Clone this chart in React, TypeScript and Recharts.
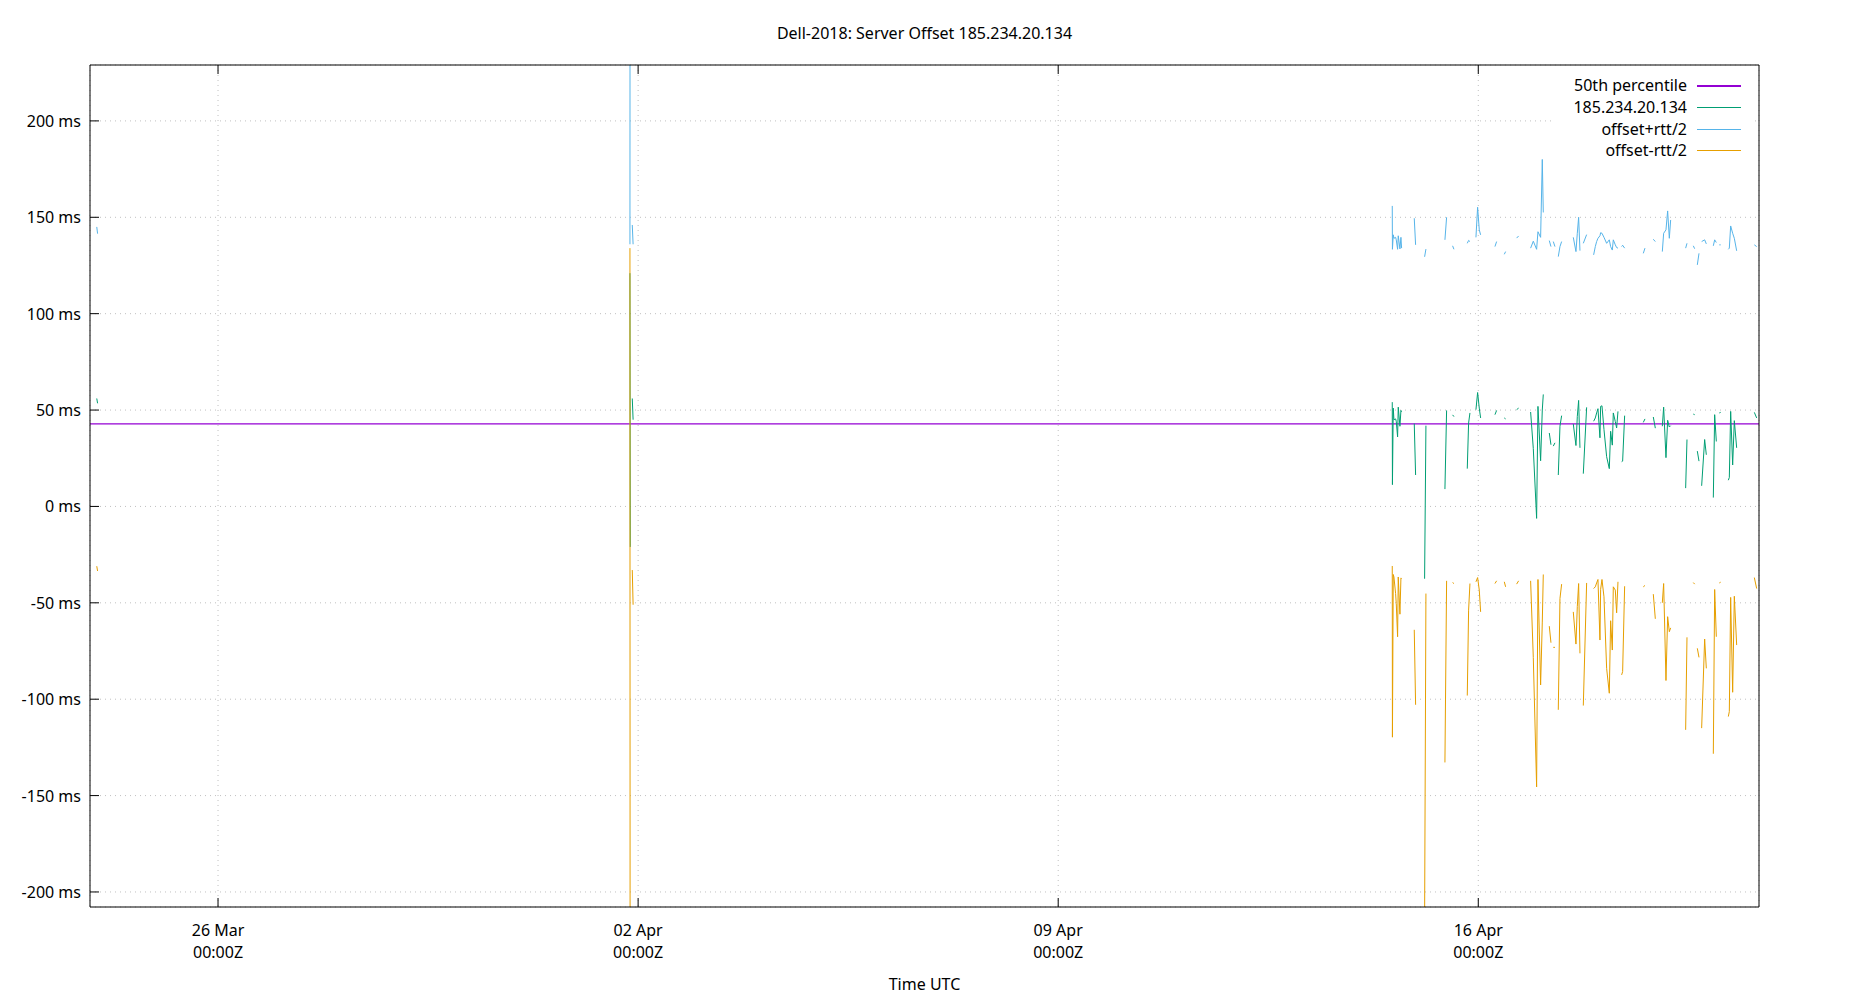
import { LineChart, Line, XAxis, YAxis, CartesianGrid, ReferenceLine } from 'recharts';

const title = 'Dell-2018: Server Offset 185.234.20.134';
const xLabel = 'Time UTC';
const legendNames = ['50th percentile', '185.234.20.134', 'offset+rtt/2', 'offset-rtt/2'];
const legendColors = ['#9400d3', '#009e73', '#56b4e9', '#e69f00'];

const xDomain = ['03-23 20:48', '04-20 16:16'];
const xTickTimes = ['03-26 00:00', '04-02 00:00', '04-09 00:00', '04-16 00:00'];
const xTickDays = ['26 Mar', '02 Apr', '09 Apr', '16 Apr'];
const yDomain = [-207.8, 229];
const yTicks = [-200, -150, -100, -50, 0, 50, 100, 150, 200];
const median = 42.8;

// null = no data there (line breaks)
const times = [
  '03-23 23:30', '03-23 23:50', null,
  '04-01 20:44', '04-01 20:52', null,
  '04-01 21:40', '04-01 22:00', null,
  '04-14 13:36', '04-14 13:40', '04-14 14:00', '04-14 14:16', '04-14 14:56', '04-14 15:12', '04-14 15:44', '04-14 16:00', '04-14 16:40', '04-14 17:04', '04-14 17:20', null,
  '04-14 22:24', '04-14 22:56', null,
  '04-15 02:32', '04-15 03:04', null,
  '04-15 10:40', '04-15 11:20', null,
  '04-15 13:44', '04-15 14:16', null,
  '04-15 19:36', '04-15 20:08', '04-15 20:40', null,
  '04-15 23:04', '04-15 23:44', '04-16 00:24', '04-16 00:56', null,
  '04-16 06:40', '04-16 07:20', null,
  '04-16 10:24', '04-16 10:56', null,
  '04-16 15:20', '04-16 16:08', null,
  '04-16 20:56', '04-16 22:00', '04-16 23:20', '04-16 23:52', '04-17 00:56', '04-17 01:36', '04-17 02:00', null,
  '04-17 04:24', '04-17 05:04', null,
  '04-17 06:00', '04-17 06:40', null,
  '04-17 08:00', '04-17 08:40', '04-17 09:20', null,
  '04-17 14:00', '04-17 15:04', '04-17 15:36', '04-17 16:08', '04-17 16:40', null,
  '04-17 18:00', '04-17 19:20', null,
  '04-17 22:08', '04-17 22:48', '04-17 23:20', '04-17 23:52', '04-18 00:40', '04-18 00:56', '04-18 01:28', '04-18 02:16', '04-18 03:20', '04-18 04:24', '04-18 04:56', '04-18 05:36', '04-18 06:00', '04-18 06:48', '04-18 07:20', '04-18 07:52', null,
  '04-18 09:20', '04-18 09:44', '04-18 10:32', null,
  '04-18 18:00', '04-18 18:40', null,
  '04-18 22:00', '04-18 22:48', null,
  '04-19 01:36', '04-19 02:08', '04-19 03:04', '04-19 03:44', '04-19 04:24', '04-19 04:56', null,
  '04-19 10:56', '04-19 11:28', null,
  '04-19 14:00', '04-19 14:32', null,
  '04-19 15:36', '04-19 16:16', null,
  '04-19 17:20', '04-19 18:32', '04-19 19:12', null,
  '04-19 22:00', '04-19 22:32', '04-19 23:12', null,
  '04-20 00:24', '04-20 00:56', null,
  '04-20 04:00', '04-20 04:24', '04-20 04:56', '04-20 05:44', '04-20 06:24', '04-20 07:20', null,
  '04-20 14:24', '04-20 15:20',
];

// offset+rtt/2 (ms)
const upper = [
  145, 141.5, null,
  136, 620, null,
  146, 136, null,
  155.9, 133.4, 140.9, 139.1, 139.6, 138.3, 133.4, 140.4, 133.6, 139.6, 134.0, null,
  149.5, 135.7, null,
  129.5, 133.5, null,
  138.3, 150, null,
  135.2, 133.4, null,
  136.5, 138, 137.4, null,
  139.6, 155.2, 143.5, 140.9, null,
  134.8, 137.4, null,
  130.8, 132.2, null,
  139.2, 140.3, null,
  134, 137.6, 133.4, 142.5, 139.6, 180, 152.5, null,
  137.9, 134.8, null,
  137.4, 134.8, null,
  129.6, 134.8, 137.4, null,
  139.6, 132.2, 141.7, 150, 132.7, null,
  136.5, 141, null,
  130.5, 134.8, 137.4, 139.1, 140.4, 142, 141.7, 139.6, 136.5, 138.3, 134.8, 133, 138.3, 135.7, 134.3, 134, null,
  134.8, 135.5, 134, null,
  131.3, 134, null,
  138.6, 137.4, null,
  132.2, 141.7, 143.5, 153.3, 139.1, 148.6, null,
  134, 136.5, null,
  135.2, 133.7, null,
  125.3, 131.3, null,
  137.4, 138.3, 136.2, null,
  135.2, 138.3, 136.9, null,
  135.7, 135.7, null,
  133.4, 134, 145.5, 141.7, 139.1, 132.6, null,
  135.7, 134.8,
];

// offset (ms)
const offset = [
  56, 53.5, null,
  121, -21, null,
  56, 45, null,
  54.1, 11.3, 51.0, 45.0, 45.4, 44.2, 36.1, 51.5, 41.6, 49.8, 49.1, null,
  43, 16.3, null,
  -37.5, 41.9, null,
  9, 49.8, null,
  47.5, 46.6, null,
  19.6, 43.3, 48.5, null,
  50.2, 59.1, 51, 45.9, null,
  47.6, 49.8, null,
  45.9, 45.4, null,
  50.2, 51, null,
  49, 30.1, -6.2, 51.9, 23.7, 50, 58.1, null,
  38.1, 32, null,
  31.3, 33, null,
  16.3, 41.6, 47.1, null,
  42.8, 31.6, 46.7, 55, 30.4, null,
  17, 51.4, null,
  44.2, 45.9, 48.5, 50.7, 35.6, 51.9, 52.2, 39.9, 25.8, 19.6, 39, 31.8, 48.5, 44, 40.7, 49.3, null,
  23.2, 23.5, 47.1, null,
  43.6, 45.4, null,
  46.4, 40.6, null,
  41.6, 51.5, 25.3, 44.7, 41.2, 41.9, null,
  9.5, 34.7, null,
  47.9, 47.6, null,
  28.7, 23.5, null,
  10.7, 34.7, 26.8, null,
  4.6, 47.6, 33.7, null,
  48.5, 48.8, null,
  13.6, 15, 49.3, 21.5, 44.5, 30.4, null,
  48.8, 45.9,
];

// offset-rtt/2 (ms)
const lower = [
  -31, -33.5, null,
  134, -660, null,
  -33, -51, null,
  -30.9, -119.7, -35.3, -36.6, -45.2, -50.3, -67.6, -36.6, -55.9, -37.1, -37.4, null,
  -64, -102.9, null,
  -215, -45.2, null,
  -132.8, -38.6, null,
  -39.5, -40, null,
  -98.1, -53.8, -40, null,
  -39.1, -36.9, -43.4, -54.7, null,
  -40, -38.6, null,
  -39.1, -41.7, null,
  -40.3, -38.6, null,
  -38.6, -78.3, -145.5, -37.9, -92.6, -60, -35.3, null,
  -62.1, -70.7, null,
  -73.1, -73.1, null,
  -105.5, -47.8, -40.3, null,
  -54.7, -71.4, -52, -40, -76.2, null,
  -103.3, -39.7, null,
  -42.6, -41.7, -39.7, -37.9, -69.3, -43, -37.9, -46.9, -84, -96.9, -59.3, -74.5, -41.7, -43.4, -55.2, -39.1, null,
  -87.4, -85.7, -41.4, null,
  -41.7, -41, null,
  -45.5, -58.3, null,
  -50, -40, -90.3, -57.2, -65, -63, null,
  -115.9, -67.9, null,
  -39.5, -40.3, null,
  -73.6, -78.3, null,
  -115, -68.8, -84, null,
  -128.3, -43.1, -67.6, null,
  -39.7, -39.3, null,
  -109, -106.4, -47.2, -96.4, -46.6, -71.9, null,
  -36.9, -42.6,
];

const W = 1850;
const H = 1000;
const PLOT = { left: 90, top: 65, right: 1759, bottom: 907 };
const FONT = '"Noto Sans", sans-serif';

const toMs = (s: string) => Date.parse(`2018-${s.replace(' ', 'T')}:00Z`);

const rows = times.map((s, i) => ({
  t: toMs(s ?? (times[i - 1] as string)),
  upper: upper[i],
  offset: offset[i],
  lower: lower[i],
}));

const xTicks = xTickTimes.map(toMs);

const BottomTick = (props: any) => {
  const { x, payload } = props;
  const i = xTicks.indexOf(payload.value);
  return (
    <g>
      <line x1={x} x2={x} y1={PLOT.bottom} y2={PLOT.bottom - 9} stroke="#000" />
      <text x={x} y={930} textAnchor="middle" dominantBaseline="central" fontFamily={FONT} fontSize={16} fill="#000">
        {xTickDays[i]}
      </text>
      <text x={x} y={952} textAnchor="middle" dominantBaseline="central" fontFamily={FONT} fontSize={16} fill="#000">
        00:00Z
      </text>
    </g>
  );
};

const TopTick = (props: any) => (
  <line x1={props.x} x2={props.x} y1={PLOT.top} y2={PLOT.top + 9} stroke="#000" />
);

const LeftTick = (props: any) => {
  const { y, payload } = props;
  return (
    <g>
      <line x1={PLOT.left} x2={PLOT.left + 9} y1={y} y2={y} stroke="#000" />
      <text x={PLOT.left - 9} y={y} textAnchor="end" dominantBaseline="central" fontFamily={FONT} fontSize={16} fill="#000">
        {`${payload.value} ms`}
      </text>
    </g>
  );
};

const legendRows = [85, 107, 129, 150];

export default function App() {
  return (
    <div style={{ position: 'absolute', left: 0, top: 0, width: W, height: H, background: '#fff', fontFamily: FONT }}>
      <LineChart width={W} height={H} data={rows} margin={{ top: 0, right: 0, bottom: 0, left: 0 }}>
        <CartesianGrid stroke="#c0c0c0" strokeDasharray="1 4" />
        <XAxis
          dataKey="t"
          type="number"
          domain={xDomain.map(toMs)}
          ticks={xTicks}
          allowDataOverflow
          interval={0}
          height={H - PLOT.bottom}
          tickSize={0}
          tickMargin={0}
          tickLine={false}
          axisLine={{ stroke: '#000' }}
          tick={BottomTick}
        />
        <XAxis
          xAxisId="top"
          orientation="top"
          dataKey="t"
          type="number"
          domain={xDomain.map(toMs)}
          ticks={xTicks}
          allowDataOverflow
          interval={0}
          height={PLOT.top}
          tickSize={0}
          tickMargin={0}
          tickLine={false}
          axisLine={{ stroke: '#000' }}
          tick={TopTick}
        />
        <YAxis
          type="number"
          domain={yDomain}
          ticks={yTicks}
          allowDataOverflow
          interval={0}
          width={PLOT.left}
          tickSize={0}
          tickMargin={0}
          tickLine={false}
          axisLine={{ stroke: '#000' }}
          tick={LeftTick}
        />
        <YAxis
          yAxisId="right"
          orientation="right"
          type="number"
          domain={yDomain}
          ticks={yTicks}
          allowDataOverflow
          width={W - PLOT.right}
          tick={false}
          tickLine={false}
          axisLine={{ stroke: '#000' }}
        />
        <ReferenceLine y={median} stroke={legendColors[0]} strokeWidth={1.3} />
        <Line dataKey="offset" stroke={legendColors[1]} strokeWidth={1} dot={false} activeDot={false} connectNulls={false} isAnimationActive={false} />
        <Line dataKey="upper" stroke={legendColors[2]} strokeWidth={1} dot={false} activeDot={false} connectNulls={false} isAnimationActive={false} />
        <Line dataKey="lower" stroke={legendColors[3]} strokeWidth={1} dot={false} activeDot={false} connectNulls={false} isAnimationActive={false} />
      </LineChart>

      <div style={{ position: 'absolute', left: 0, width: 2 * 924.5, top: 22, height: 22, lineHeight: '22px', textAlign: 'center', fontSize: 16, color: '#000' }}>
        {title}
      </div>
      <div style={{ position: 'absolute', left: 0, width: 2 * 924.5, top: 973, height: 22, lineHeight: '22px', textAlign: 'center', fontSize: 16, color: '#000' }}>
        {xLabel}
      </div>

      <div style={{ position: 'absolute', left: 1553, top: 70, width: 202, height: 92, background: '#fff' }} />
      {legendNames.map((name, i) => (
        <div key={name}>
          <div style={{ position: 'absolute', left: 1437, width: 250, top: legendRows[i] - 11, height: 22, lineHeight: '22px', textAlign: 'right', fontSize: 16, color: '#000' }}>
            {name}
          </div>
          <div style={{ position: 'absolute', left: 1697, width: 44, top: legendRows[i], height: i === 0 ? 1.5 : 1, background: legendColors[i] }} />
        </div>
      ))}
    </div>
  );
}
